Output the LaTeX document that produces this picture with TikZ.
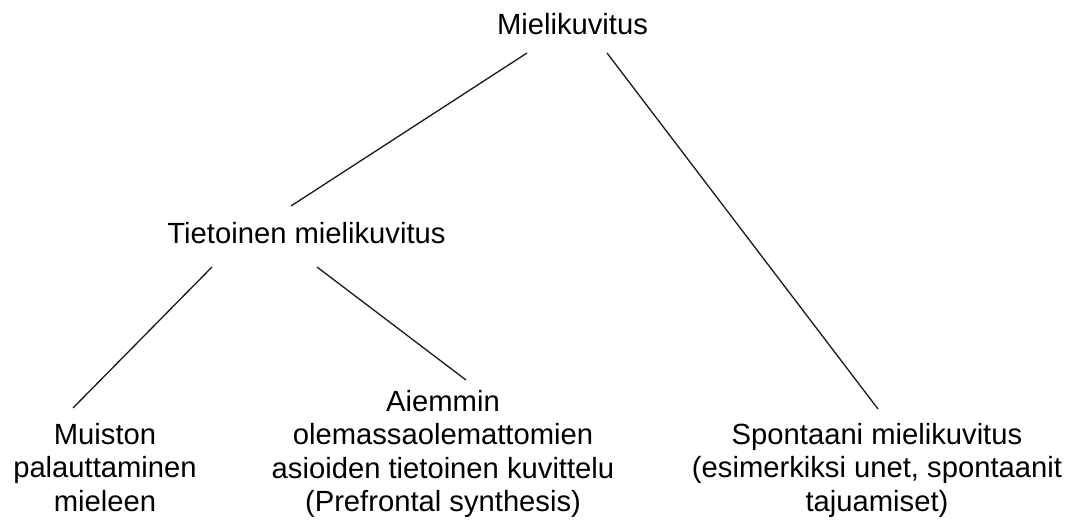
\documentclass[tikz,border=0pt]{standalone}
\usepackage{fontspec}
\setmainfont{Liberation Sans}
\usetikzlibrary{calc}
\begin{document}
\begin{tikzpicture}[x=1pt,y=-1pt,
  lbl/.style={font=\fontsize{29.2pt}{33.5pt}\selectfont, align=center,
    inner sep=0pt, outer sep=0pt, anchor=north, text=black},
  link/.style={draw=black!90, line width=1.3pt}]
\path[use as bounding box] (0,0) rectangle (1079,524);
\node[lbl] (mieli) at (572.5,13) {\rule{0pt}{22pt}Mielikuvitus};
\node[lbl] (tiet)  at (306.5,221) {\rule{0pt}{22pt}Tietoinen mielikuvitus};
\node[lbl] (muist) at (105,422) {\rule{0pt}{22pt}Muiston\\palauttaminen\\mieleen};
\node[lbl] (aiem)  at (443,389) {\rule{0pt}{22pt}Aiemmin\\olemassaolemattomien\\asioiden tietoinen kuvittelu\\(Prefrontal synthesis)};
\node[lbl] (spont) at (877,422) {\rule{0pt}{22pt}Spontaani mielikuvitus\\(esimerkiksi unet, spontaanit\\tajuamiset)};
\draw[link] ($(mieli.north)+(-45.5,40)$) -- ($(tiet.north)+(-15.5,-15)$);
\draw[link] ($(mieli.north)+(34.5,40)$) -- ($(spont.north)+(1,-13)$);
\draw[link] ($(tiet.north)+(-94.5,46)$) -- ($(muist.north)+(-32,-14)$);
\draw[link] ($(tiet.north)+(10.5,46)$) -- ($(aiem.north)+(23,-9)$);
\end{tikzpicture}
\end{document}
